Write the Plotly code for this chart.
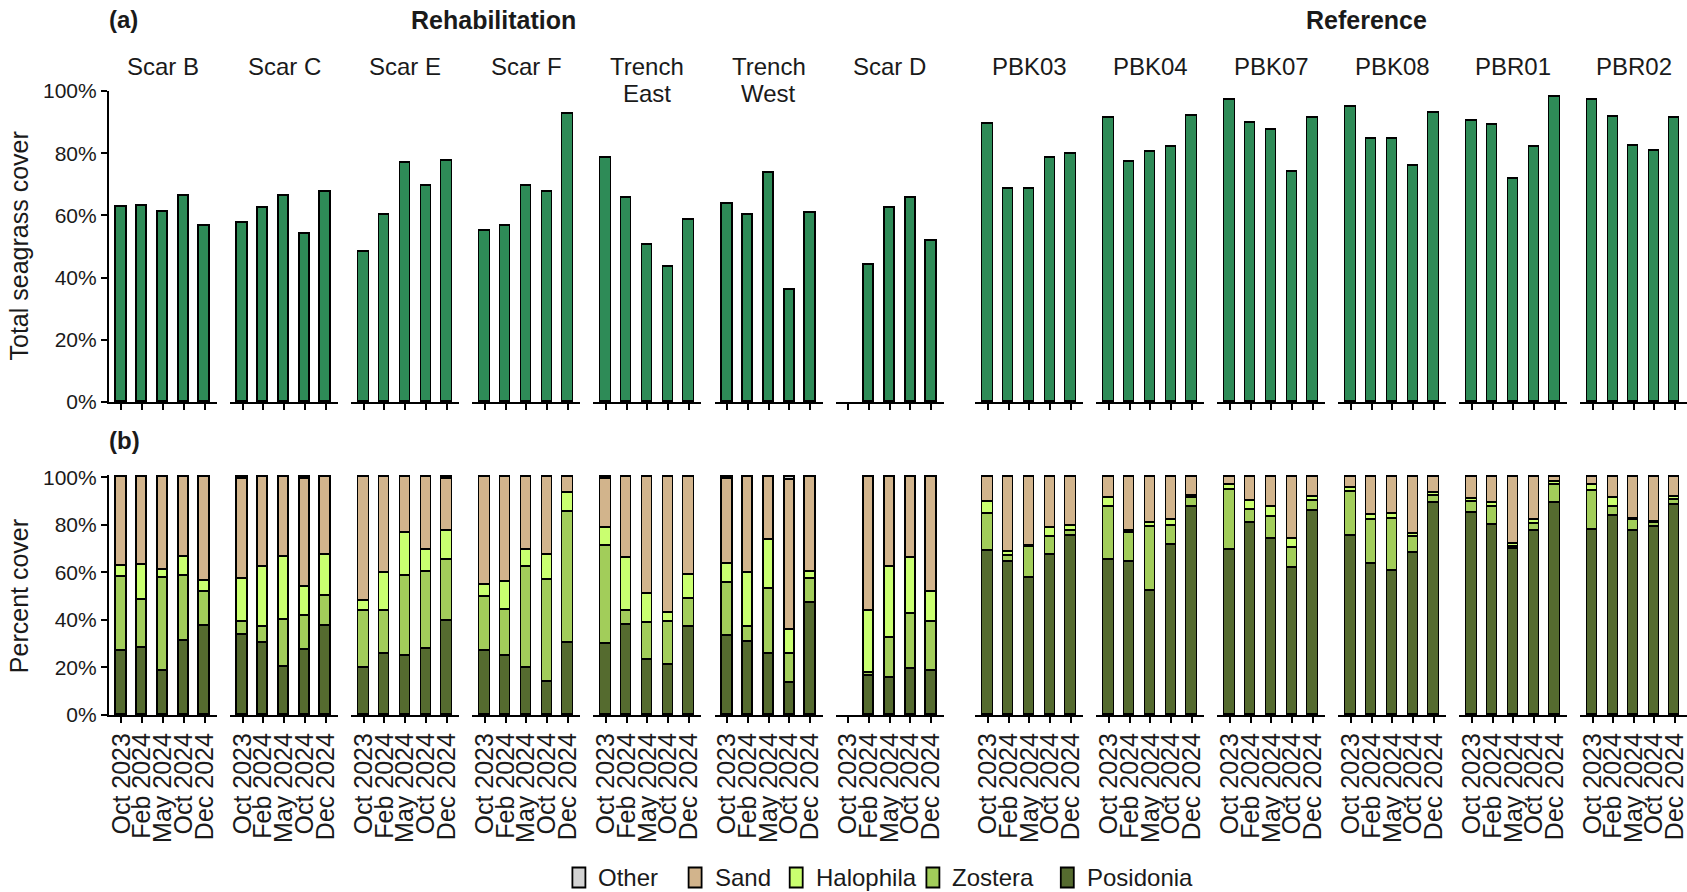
import plotly.graph_objects as go

# ---- data -------------------------------------------------------------
sites = ["Scar B", "Scar C", "Scar E", "Scar F", "Trench\nEast", "Trench\nWest", "Scar D",
         "PBK03", "PBK04", "PBK07", "PBK08", "PBR01", "PBR02"]
surveys = ["Oct 2023", "Feb 2024", "May 2024", "Oct 2024", "Dec 2024"]
group_labels = ["Rehabilitation", "Reference"]
n_rehab = 7

# (a) total seagrass cover (%), one row per site, one value per survey
total_cover = [
    [62.6, 63.0, 61.0, 66.4, 56.6],
    [57.4, 62.3, 66.2, 54.0, 67.6],
    [48.2, 60.0, 76.8, 69.4, 77.4],
    [55.1, 56.7, 69.4, 67.5, 92.6],
    [78.3, 65.6, 50.6, 43.4, 58.6],
    [63.7, 60.0, 73.7, 36.0, 60.7],
    [None, 44.0, 62.3, 65.6, 51.7],
    [89.4, 68.4, 68.6, 78.3, 79.7],
    [91.2, 77.1, 80.4, 82.1, 92.0],
    [97.1, 89.6, 87.4, 73.8, 91.3],
    [95.0, 84.5, 84.7, 76.0, 93.0],
    [90.4, 89.0, 71.6, 82.1, 98.0],
    [97.1, 91.6, 82.3, 80.7, 91.3],
]

# (b) percent cover by class (%)
posidonia = [
    [26.9, 28.1, 18.5, 31.1, 37.6],
    [33.7, 30.2, 20.3, 27.3, 37.6],
    [19.9, 25.9, 24.8, 27.6, 39.6],
    [26.9, 24.8, 19.6, 14.0, 30.2],
    [29.7, 37.9, 23.1, 21.0, 37.2],
    [33.2, 30.9, 25.5, 13.3, 47.0],
    [None, 16.4, 15.4, 19.2, 18.7],
    [69.0, 64.5, 57.5, 67.3, 75.3],
    [65.2, 64.2, 52.3, 71.5, 87.4],
    [69.4, 80.6, 74.1, 61.7, 86.0],
    [75.3, 63.5, 60.7, 68.3, 89.3],
    [84.9, 79.9, 69.7, 77.6, 89.3],
    [77.8, 83.9, 77.4, 79.0, 88.4],
]
zostera = [
    [31.3, 20.3, 39.0, 27.4, 14.3],
    [5.6, 7.0, 19.7, 14.4, 12.5],
    [23.9, 17.9, 33.8, 32.7, 25.6],
    [22.9, 19.4, 42.8, 42.8, 55.4],
    [41.4, 5.9, 15.7, 18.0, 11.6],
    [22.2, 6.3, 27.4, 12.2, 10.1],
    [None, 1.4, 16.9, 23.3, 20.3],
    [15.4, 2.5, 13.3, 7.7, 2.3],
    [22.2, 12.2, 26.7, 8.0, 3.8],
    [25.3, 5.7, 9.4, 8.4, 4.2],
    [18.7, 18.5, 22.0, 6.5, 2.8],
    [4.9, 7.5, 1.1, 2.8, 7.4],
    [16.6, 3.5, 4.6, 1.6, 2.1],
]
halophila = [
    [4.6, 14.6, 3.5, 7.8, 4.5],
    [17.8, 25.2, 26.3, 12.3, 17.2],
    [4.2, 16.1, 17.8, 9.1, 12.2],
    [4.9, 11.9, 7.0, 10.5, 7.7],
    [7.4, 22.1, 12.1, 4.1, 10.0],
    [8.1, 22.7, 20.7, 10.5, 3.2],
    [None, 26.1, 30.1, 23.4, 12.6],
    [5.2, 1.4, 0.3, 3.5, 2.1],
    [3.8, 1.0, 1.6, 2.5, 0.9],
    [2.1, 3.7, 3.9, 3.8, 1.4],
    [1.4, 2.1, 1.7, 1.4, 1.2],
    [0.9, 1.7, 1.2, 1.6, 1.5],
    [2.6, 3.8, 0.5, 0.7, 1.1],
]
other = [
    [0.0, 0.0, 0.0, 0.0, 0.0],
    [0.5, 0.0, 0.0, 0.5, 0.0],
    [0.0, 0.0, 0.0, 0.0, 0.5],
    [0.0, 0.0, 0.0, 0.0, 0.0],
    [0.7, 0.0, 0.0, 0.0, 0.0],
    [0.5, 0.0, 0.0, 1.2, 0.0],
    [None, 0.0, 0.0, 0.0, 0.0],
    [0.0, 0.0, 0.0, 0.0, 0.0],
    [0.0, 0.0, 0.0, 0.0, 0.0],
    [0.0, 0.0, 0.0, 0.0, 0.0],
    [0.0, 0.0, 0.0, 0.0, 0.0],
    [0.0, 0.0, 0.0, 0.0, 0.0],
    [0.0, 0.0, 0.0, 0.0, 0.0],
]

# sand is whatever remains of each quadrat
sand = [[None if p is None else round(100 - p - z - h - o, 1)
         for p, z, h, o in zip(ps, zs, hs, os_)]
        for ps, zs, hs, os_ in zip(posidonia, zostera, halophila, other)]

# stacking order, bottom to top
classes = [("Posidonia", posidonia, "#556B2F"),
           ("Zostera", zostera, "#A2CD5A"),
           ("Halophila", halophila, "#CAFF70"),
           ("Sand", sand, "#D2B48C"),
           ("Other", other, "#D3D3D3")]
total_colour = "#2E8B57"

# ---- layout geometry (pixels) ----------------------------------------
W, H = 1687, 892
FONT = "Liberation Sans, Arial, Helvetica, sans-serif"
INK = "#1a1a1a"
panel_w = 108.0
starts = [109 + 121.1 * i for i in range(n_rehab)] + \
         [975.4 + 121.0 * j for j in range(len(sites) - n_rehab)]
a_bottom, a_top = 402.0, 91.0
b_bottom, b_top100 = 715.0, 477.3
b_top = b_top100 - (b_bottom - b_top100) / 100.0  # room for 101 %


def px(x):
    return x / W


def py(y):
    return 1 - y / H


fig = go.Figure()
layout = {}
xpos = list(range(1, len(surveys) + 1))

for i, site in enumerate(sites):
    ka, kb = 2 * i + 1, 2 * i + 2
    xa, ya = f"x{ka}", f"y{ka}"
    xb, yb = f"x{kb}", f"y{kb}"
    dom = [px(starts[i]), min(1.0, px(starts[i] + panel_w))]

    fig.add_trace(go.Bar(x=xpos, y=total_cover[i], xaxis=xa, yaxis=ya, width=0.5,
                         marker=dict(color=total_colour, line=dict(color="black", width=1.7)),
                         showlegend=False, hoverinfo="y"))
    for name, values, colour in classes:
        fig.add_trace(go.Bar(x=xpos, y=values[i], xaxis=xb, yaxis=yb, width=0.5, name=name,
                             legendgroup=name, showlegend=False,
                             marker=dict(color=colour, line=dict(color="black", width=1.7))))

    common_x = dict(range=[0.4, 5.6], showline=True, linecolor="black", linewidth=2.2,
                    ticks="outside", ticklen=6, tickwidth=1.7, tickcolor="black",
                    showgrid=False, zeroline=False, fixedrange=True, automargin=False,
                    tickvals=xpos, domain=dom)
    layout[f"xaxis{ka}"] = dict(common_x, anchor=ya, showticklabels=False)
    layout[f"xaxis{kb}"] = dict(common_x, anchor=yb, ticktext=surveys, tickangle=-90,
                                ticklabeloverflow="allow",
                                tickfont=dict(family=FONT, size=25, color=INK))

    first = (i == 0)
    common_y = dict(showgrid=False, zeroline=False, fixedrange=True, automargin=False,
                    showline=first, linecolor="black", linewidth=2.2,
                    ticks="outside" if first else "", ticklen=6, tickwidth=1.7,
                    tickcolor="black", showticklabels=first,
                    tickvals=[0, 20, 40, 60, 80, 100],
                    ticktext=["0%", "20%", "40%", "60%", "80%", "100%"],
                    tickfont=dict(family=FONT, size=21, color=INK))
    layout[f"yaxis{ka}"] = dict(common_y, anchor=xa, range=[0, 100],
                                domain=[py(a_bottom), py(a_top)])
    layout[f"yaxis{kb}"] = dict(common_y, anchor=xb, range=[0, 101],
                                domain=[py(b_bottom), py(b_top)])

annotations = []
shapes = []


def add_text(text, x, y, size=24, bold=False, xanchor="center", angle=0):
    annotations.append(dict(text=f"<b>{text}</b>" if bold else text,
                            x=px(x), y=py(y), xref="paper", yref="paper",
                            xanchor=xanchor, yanchor="middle", showarrow=False,
                            textangle=angle,
                            font=dict(family=FONT, size=size, color=INK)))


# strip labels
for i, site in enumerate(sites):
    for k, line in enumerate(site.split("\n")):
        add_text(line, starts[i] + panel_w / 2, 67 + 26 * k, size=24)

add_text("(a)", 107, 20, size=24, bold=True, xanchor="left")
add_text("(b)", 107, 441, size=24, bold=True, xanchor="left")
add_text(group_labels[0], 493, 20, size=25, bold=True)
add_text(group_labels[1], 1366, 20, size=25, bold=True)
add_text("Total seagrass cover", 19, (a_bottom + a_top) / 2, size=25, angle=-90)
add_text("Percent cover", 19, (b_bottom + b_top100) / 2, size=25, angle=-90)

# legend: keys listed top of stack first
legend_key_x = [572.4, 688.6, 789.7, 926.4, 1060.8]
legend_y = 877.5
for (name, _, colour), kx in zip(classes[::-1], legend_key_x):
    shapes.append(dict(type="rect", xref="paper", yref="paper",
                       x0=px(kx), x1=px(kx + 13), y0=py(legend_y + 10), y1=py(legend_y - 10),
                       fillcolor=colour, line=dict(color="black", width=1.8)))
    add_text(name, kx + 24, legend_y, size=24, xanchor="left")

fig.update_layout(
    template="none",
    width=W, height=H,
    margin=dict(l=0, r=0, t=0, b=0, autoexpand=False),
    paper_bgcolor="white", plot_bgcolor="white",
    barmode="stack", bargap=0,
    showlegend=False,
    annotations=annotations,
    shapes=shapes,
    **layout,
)

fig.write_html("out.html")
